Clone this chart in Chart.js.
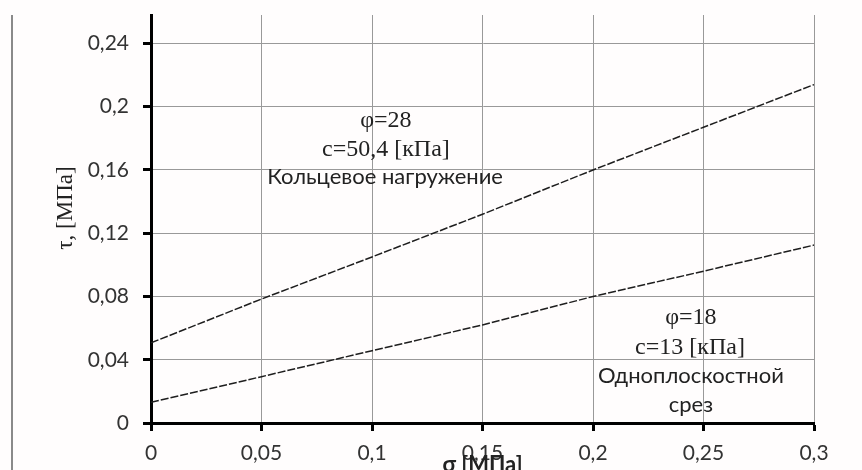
<!DOCTYPE html>
<html>
<head>
<meta charset="utf-8">
<script src="https://cdn.jsdelivr.net/npm/chart.js@4/dist/chart.umd.min.js"></script>
<style>
  html, body { margin: 0; padding: 0; background: #fffdfd; }
  #wrap { width: 862px; height: 470px; position: relative; }
</style>
</head>
<body>
<div id="wrap"><canvas id="c" width="862" height="470"></canvas></div>
<script>
// ---- data ----
const sigmaValues = [0, 0.05, 0.1, 0.15, 0.2, 0.25, 0.3];
const tauRing   = [0.0507, 0.0784, 0.105, 0.132, 0.16, 0.187, 0.214];   // Кольцевое нагружение
const tauSingle = [0.0131, 0.0293, 0.0457, 0.062, 0.08, 0.096, 0.1125]; // Одноплоскостной срез

const xTickValues = [0, 0.05, 0.1, 0.15, 0.2, 0.25, 0.3];
const xTickLabels = ['0', '0,05', '0,1', '0,15', '0,2', '0,25', '0,3'];
const yTickValues = [0, 0.04, 0.08, 0.12, 0.16, 0.2, 0.24];
const yTickLabels = ['0', '0,04', '0,08', '0,12', '0,16', '0,2', '0,24'];

const xTitle = 'σ [МПа]';
const yTitle = 'τ, [МПа]';

// annotation texts, anchored in data units (σ, τ)
const annotTexts  = ['φ=28', 'с=50,4 [кПа]', 'Кольцевое нагружение', 'φ=18', 'с=13 [кПа]', 'Одноплоскостной', 'срез'];
const annotSigma  = [0.1063, 0.1063, 0.1059, 0.2443, 0.2439, 0.2443, 0.2443];
const annotTau    = [0.1914, 0.1731, 0.1554, 0.0663, 0.0474, 0.0297, 0.0114];
const annotSerif  = [true, true, false, true, true, false, false];

const SERIF = '"Liberation Serif", "DejaVu Serif", serif';
const SANS = 'Lato, "Open Sans", sans-serif';

const toPoints = ys => sigmaValues.map((x, i) => ({ x: x, y: ys[i] }));

const decor = {
  id: 'decor',
  beforeDraw(chart) {
    const ctx = chart.ctx;
    ctx.save();
    ctx.fillStyle = '#fffdfd';
    ctx.fillRect(0, 0, chart.width, chart.height);
    ctx.strokeStyle = '#8a8a8a';
    ctx.lineWidth = 2;
    ctx.beginPath();
    ctx.moveTo(12, chart.chartArea.top);
    ctx.lineTo(12, chart.height);
    ctx.stroke();
    ctx.restore();
  },
  afterDraw(chart) {
    const ctx = chart.ctx;
    const xs = chart.scales.x, ys = chart.scales.y;
    ctx.save();
    ctx.fillStyle = '#222';
    ctx.textAlign = 'center';
    ctx.textBaseline = 'middle';
    annotTexts.forEach((t, i) => {
      ctx.font = annotSerif[i] ? '24px ' + SERIF : '22px ' + SANS;
      ctx.fillText(t, xs.getPixelForValue(annotSigma[i]), ys.getPixelForValue(annotTau[i]));
    });
    // y title (rotated)
    ctx.save();
    ctx.translate(66, 208);
    ctx.rotate(-Math.PI / 2);
    ctx.font = '23px ' + SERIF;
    ctx.fillText(yTitle, 0, 0);
    ctx.restore();
    // x title
    ctx.font = 'bold 22px ' + SANS;
    ctx.fillText(xTitle, (chart.chartArea.left + chart.chartArea.right) / 2, 465);
    ctx.restore();
  }
};

new Chart(document.getElementById('c'), {
  type: 'line',
  data: {
    datasets: [
      { label: 'Кольцевое нагружение', data: toPoints(tauRing), borderColor: '#1e1e1e', borderWidth: 1.5, borderDash: [8, 2], pointRadius: 0, fill: false, tension: 0 },
      { label: 'Одноплоскостной срез', data: toPoints(tauSingle), borderColor: '#1e1e1e', borderWidth: 1.5, borderDash: [8, 2], pointRadius: 0, fill: false, tension: 0 }
    ]
  },
  options: {
    responsive: false,
    animation: false,
    devicePixelRatio: 1,
    layout: { padding: { left: 0, right: 48, top: 15, bottom: 0 } },
    plugins: { legend: { display: false }, tooltip: { enabled: false } },
    scales: {
      x: {
        type: 'linear', min: 0, max: 0.3,
        afterFit(s) { s.height = 47; },
        afterBuildTicks(s) { s.ticks = xTickValues.map(v => ({ value: v })); },
        ticks: {
          color: '#333', padding: 10,
          font: { family: SANS, size: 21 },
          maxRotation: 0, autoSkip: false,
          callback: (v) => { const i = xTickValues.findIndex(t => Math.abs(t - v) < 1e-9); return i >= 0 ? xTickLabels[i] : ''; }
        },
        grid: { color: '#999', lineWidth: 1, tickColor: '#000', tickWidth: 3, tickLength: 8, drawTicks: true },
        border: { display: true, color: '#000', width: 3 }
      },
      y: {
        type: 'linear', min: 0, max: 0.258,
        afterFit(s) { s.width = 151; s.paddingTop = 0; s.paddingBottom = 0; },
        afterBuildTicks(s) { s.ticks = yTickValues.map(v => ({ value: v })); },
        ticks: {
          color: '#333', padding: 14,
          font: { family: SANS, size: 21 },
          autoSkip: false,
          callback: (v) => { const i = yTickValues.findIndex(t => Math.abs(t - v) < 1e-9); return i >= 0 ? yTickLabels[i] : ''; }
        },
        grid: { color: '#999', lineWidth: 1, tickColor: '#000', tickWidth: 3, tickLength: 8, drawTicks: true },
        border: { display: true, color: '#000', width: 3 }
      }
    }
  },
  plugins: [decor]
});
</script>
</body>
</html>
